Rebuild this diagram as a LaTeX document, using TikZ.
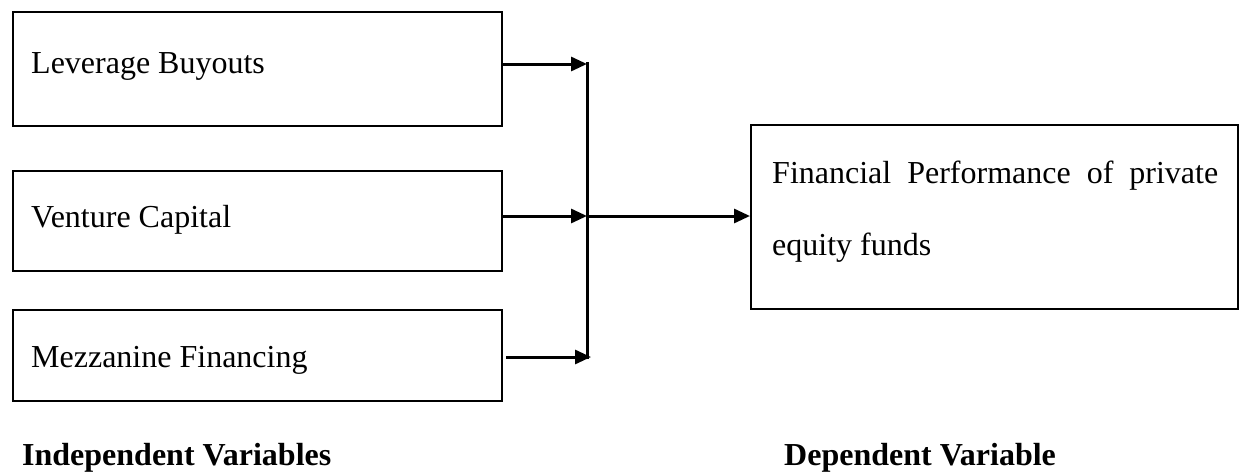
\documentclass[tikz,border=0pt]{standalone}
\usepackage{fontspec}
\setmainfont{Liberation Serif}
\usetikzlibrary{arrows.meta}
\tikzset{
  box/.style={draw=black, line width=2.1pt, rectangle, inner sep=0pt},
  lbl/.style={anchor=base west, inner sep=0pt, font=\fontsize{32}{38}\selectfont},
  head/.style={anchor=base west, inner sep=0pt, font=\fontsize{32}{38}\selectfont\bfseries},
  conn/.style={line width=3pt},
  arr/.style={conn, -{Triangle[length=16pt,width=14pt]}}
}
\begin{document}
\begin{tikzpicture}[x=1pt,y=-1pt]
\useasboundingbox (0,0) rectangle (1239,471);
% left boxes
\node[box, anchor=north west, minimum width=489pt, minimum height=114pt] (lbo) at (11.5,10.7) {};
\node[box, anchor=north west, minimum width=489pt, minimum height=100pt] (vc) at (11.5,170) {};
\node[box, anchor=north west, minimum width=489pt, minimum height=91pt] (mz) at (11.5,308.5) {};
\node[lbl] (lbot) at (31,73) {Leverage Buyouts};
\node[lbl] (vct) at (31,227) {Venture Capital};
\node[lbl] (mzt) at (31,367) {Mezzanine Financing};
% right box
\node[box, anchor=north west, minimum width=487pt, minimum height=184pt] (dep) at (750,124) {};
\node[anchor=base west, inner sep=0pt, text width=446pt, align=justify,
      font=\fontsize{32}{72}\selectfont] (dept) at (772,183)
  {Financial Performance of private equity funds};
% junction coordinates
\coordinate (j1) at (587,64);
\coordinate (j2) at (587,216);
\coordinate (j3) at (587,357);
\coordinate (t3) at (591,357);
\coordinate (s3) at (506,357);
% connectors
\draw[arr] (lbo.east |- j1) -- (j1);
\draw[arr] (vc.east |- j2) -- (j2);
\draw[arr] (s3) -- (t3);
\draw[conn] ([yshift=2pt]j1) -- ([yshift=-1.5pt]j3);
\draw[arr] (j2) -- (dep.west |- j2);
% labels
\node[head] (iv) at (22,465) {Independent Variables};
\node[head] (dv) at (784,465) {Dependent Variable};
\end{tikzpicture}
\end{document}
